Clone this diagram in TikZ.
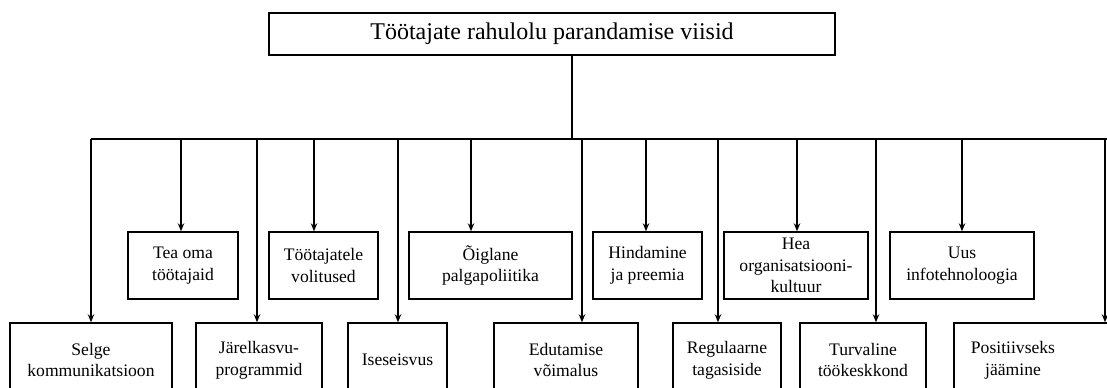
\documentclass[tikz,border=0pt]{standalone}
\usepackage{fontspec}
\setmainfont{Liberation Serif}
\usetikzlibrary{arrows.meta, positioning}

\tikzset{
  box/.style={draw, line width=0.7pt, align=center, inner sep=1pt, font=\fontsize{8.8}{10.8}\selectfont},
  upbox/.style={box, minimum height=33.5pt},
  lowbox/.style={box, minimum height=37pt},
  arr/.style={line width=0.6pt, -{Stealth[length=4pt, width=3.2pt]}},
}

\begin{document}
\begin{tikzpicture}[x=0.5pt, y=-0.5pt]
\useasboundingbox (0,0) rectangle (1107,387);
\clip (0,0) rectangle (1107,387);

\node[box, minimum width=283pt, minimum height=21pt, font=\fontsize{12}{14}\selectfont] (top) at (552,34) {Töötajate rahulolu parandamise viisid};

% upper row
\node[upbox, minimum width=55pt] (tea) at (183,265.5) {Tea oma\\töötajaid};
\node[upbox, minimum width=54.5pt] (volit) at (323.5,265.5) {Töötajatele\\volitused};
\node[upbox, minimum width=81.5pt] (palk) at (490.5,265.5) {Õiglane\\palgapoliitika};
\node[upbox, minimum width=54.5pt] (hind) at (647.5,265.5) {Hindamine\\ja preemia};
\node[upbox, minimum width=72pt] (kult) at (796,265.5) {Hea\\organisatsiooni-\\kultuur};
\node[upbox, minimum width=72pt] (info) at (962,265.5) {Uus\\infotehnoloogia};

% lower row
\node[lowbox, minimum width=81pt] (selge) at (91,360) {Selge\\kommunikatsioon};
\node[lowbox, minimum width=63pt] (jarel) at (259,360) {Järelkasvu-\\programmid};
\node[lowbox, minimum width=49.5pt] (isese) at (397.5,360) {Iseseisvus};
\node[lowbox, minimum width=72pt] (edut) at (566,360) {Edutamise\\võimalus};
\node[lowbox, minimum width=54pt] (regul) at (727,360) {Regulaarne\\tagasiside};
\node[lowbox, minimum width=63pt] (turv) at (863,360) {Turvaline\\töökeskkond};
\node[lowbox, minimum width=83pt] (posit) at (1037,360) {};
\node[box, draw=none] (positT) at (1013,360) {Positiivseks\\jäämine};

% bus
\coordinate (hub) at (572,139);
\coordinate (busL) at (91,139);
\coordinate (busR) at (1107,139);
\draw[line width=0.7pt] (top.south -| hub) -- (hub);
\draw[line width=0.7pt] (busL) -- (busR);

\foreach \x/\n in {91/selge, 181/tea, 257/jarel, 314/volit, 398/isese, 471/palk,
                   582/edut, 646/hind, 718/regul, 797/kult, 876/turv, 962/info, 1105/posit} {
  \coordinate (d\n) at (\x,139);
  \draw[arr] (d\n) -- (d\n |- \n.north);
}

\end{tikzpicture}
\end{document}
